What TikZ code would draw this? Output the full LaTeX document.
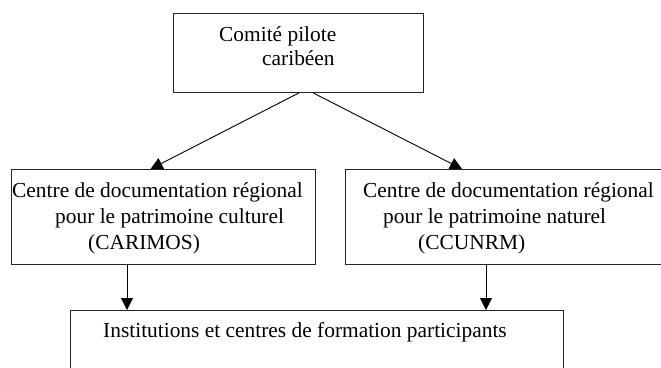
\documentclass[tikz,border=0pt]{standalone}
\usepackage{fontspec}
\setmainfont{Liberation Serif}
\usetikzlibrary{arrows.meta}
\begin{document}
\begin{tikzpicture}[x=1pt,y=-1pt,
  box/.style={draw=black!85,line width=1.1pt,inner sep=0pt,anchor=north west},
  txt/.style={inner sep=0pt,anchor=base west,font=\fontsize{21.4}{26}\selectfont},
  arr/.style={draw=black,line width=0.9pt,-{Triangle[length=12pt,width=12pt]}}]
\useasboundingbox (0,0) rectangle (661,367);
\node[box,minimum width=250pt,minimum height=79pt] (top) at (173,13) {};
\node[box,minimum width=304pt,minimum height=95pt] (left) at (11,169) {};
\node[box,minimum width=340pt,minimum height=95pt] (right) at (345,169) {};
\node[box,minimum width=493pt,minimum height=90pt] (bot) at (70,310) {};
\node[txt] (t1) at (219,41) {Comité pilote};
\node[txt] (t2) at (262,65) {caribéen};
\node[txt] (l1) at (12,197) {Centre de documentation régional};
\node[txt] (l2) at (55,223) {pour le patrimoine culturel};
\node[txt] (l3) at (88,249) {(CARIMOS)};
\node[txt] (r1) at (363,197) {Centre de documentation régional};
\node[txt] (r2) at (383,223) {pour le patrimoine naturel};
\node[txt] (r3) at (418,249) {(CCUNRM)};
\node[txt] (b1) at (103,337) {Institutions et centres de formation participants};
\draw[arr] (top.south) -- ([xshift=-13pt]left.north);
\draw[arr] ([xshift=15pt]top.south) -- ([xshift=117pt]right.north west);
\draw[arr] ([xshift=116pt]left.south west) -- ([xshift=57pt]bot.north west);
\draw[arr] ([xshift=141pt]right.south west) -- ([xshift=416pt]bot.north west);
\end{tikzpicture}
\end{document}
